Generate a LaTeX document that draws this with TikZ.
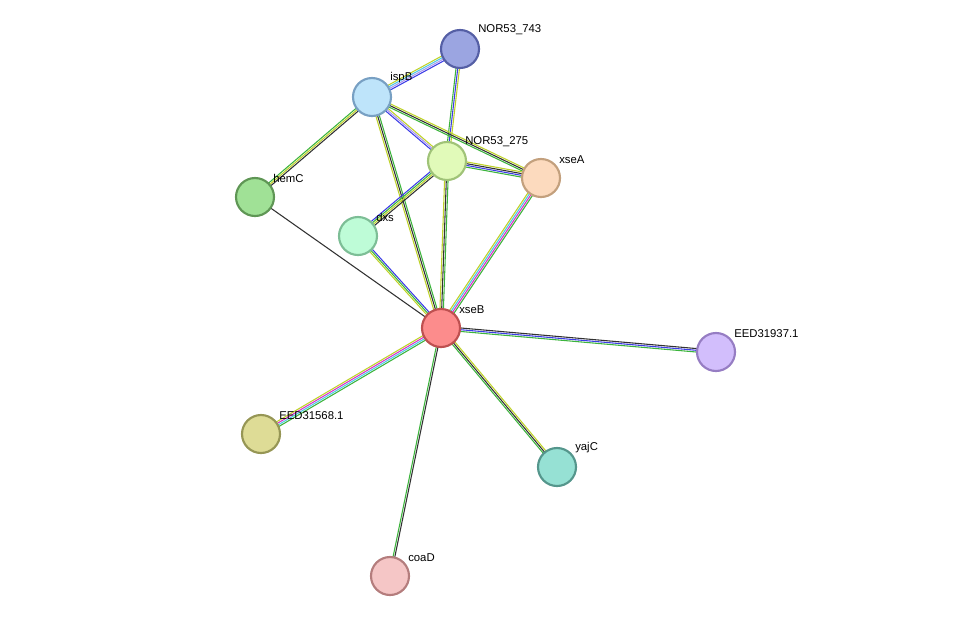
\documentclass[tikz,border=0pt]{standalone}
\usepackage{fontspec}
\setmainfont{Liberation Sans}
\usetikzlibrary{calc}
\definecolor{sG}{RGB}{60,180,60}
\definecolor{sB}{RGB}{60,60,230}
\definecolor{sY}{RGB}{190,210,40}
\definecolor{sK}{RGB}{50,50,50}
\definecolor{sM}{RGB}{220,50,200}
\definecolor{sC}{RGB}{80,200,230}
\definecolor{sL}{RGB}{170,150,240}
\tikzset{
  prot/.style={circle,minimum size=28.5pt,inner sep=0pt,line width=1.6pt},
  lab/.style={anchor=south west,inner sep=0pt,font=\fontsize{8.5}{9}\selectfont},
  ln/.style={line width=0.8pt}
}
\newcommand{\medgeN}[4]{% #4 = count
 \foreach \c [count=\i] in {#3}{%
   \pgfmathsetmacro{\o}{(\i-(#4+1)/2)*1.3}%
   \draw[ln,draw=\c] ($(#1)!\o pt!90:(#2)$) -- ($(#2)!\o pt!-90:(#1)$);}%
}
\begin{document}
\begin{tikzpicture}[x=0.75pt,y=-0.75pt]
\useasboundingbox (0,0) rectangle (975,622);
\coordinate (a743) at (460,49);
\coordinate (ispB) at (372,97);
\coordinate (a275) at (447,161);
\coordinate (xseA) at (541,178);
\coordinate (hemC) at (255,197);
\coordinate (dxs) at (358,236);
\coordinate (xseB) at (441,328);
\coordinate (e937) at (716,352);
\coordinate (e568) at (261,434);
\coordinate (yajC) at (557,467);
\coordinate (coaD) at (390,576);
% edges
\medgeN{xseB}{xseA}{sG,sM,sC,sY}{4}
\medgeN{xseB}{a275}{sG,sK,sY}{3}
\medgeN{a743}{a275}{sG,sB,sY}{3}
\medgeN{xseB}{ispB}{sG,sK,sY}{3}
\medgeN{xseB}{dxs}{sB,sG,sY}{3}
\medgeN{xseB}{hemC}{sK}{1}
\medgeN{xseB}{e937}{sG,sB,sK}{3}
\medgeN{xseB}{e568}{sY,sM,sC,sG}{4}
\medgeN{xseB}{yajC}{sG,sK,sY}{3}
\medgeN{xseB}{coaD}{sG,sK}{2}
\medgeN{ispB}{a743}{sB,sL,sC,sY}{4}
\medgeN{ispB}{a275}{sB,sL,sY}{3}
\medgeN{ispB}{xseA}{sG,sK,sY}{3}
\medgeN{ispB}{hemC}{sG,sY,sK}{3}
\medgeN{a275}{xseA}{sG,sB,sK,sY}{4}
\medgeN{a275}{dxs}{sB,sG,sY,sK}{4}
% nodes
\node[prot,fill={rgb,255:red,155;green,165;blue,225},draw={rgb,255:red,85;green,95;blue,165}] (n743) at (a743) {};
\node[prot,fill={rgb,255:red,190;green,228;blue,250},draw={rgb,255:red,120;green,160;blue,195}] (nispB) at (ispB) {};
\node[prot,fill={rgb,255:red,225;green,250;blue,185},draw={rgb,255:red,160;green,195;blue,120}] (n275) at (a275) {};
\node[prot,fill={rgb,255:red,252;green,218;blue,190},draw={rgb,255:red,195;green,160;blue,125}] (nxseA) at (xseA) {};
\node[prot,fill={rgb,255:red,160;green,225;blue,150},draw={rgb,255:red,95;green,150;blue,85}] (nhemC) at (hemC) {};
\node[prot,fill={rgb,255:red,190;green,252;blue,215},draw={rgb,255:red,125;green,190;blue,150}] (ndxs) at (dxs) {};
\node[prot,fill={rgb,255:red,252;green,140;blue,140},draw={rgb,255:red,190;green,80;blue,80}] (nxseB) at (xseB) {};
\node[prot,fill={rgb,255:red,210;green,190;blue,252},draw={rgb,255:red,150;green,125;blue,195}] (n937) at (e937) {};
\node[prot,fill={rgb,255:red,222;green,220;blue,150},draw={rgb,255:red,150;green,150;blue,85}] (n568) at (e568) {};
\node[prot,fill={rgb,255:red,150;green,225;blue,212},draw={rgb,255:red,85;green,150;blue,140}] (nyajC) at (yajC) {};
\node[prot,fill={rgb,255:red,245;green,198;blue,198},draw={rgb,255:red,180;green,125;blue,125}] (ncoaD) at (coaD) {};
% labels
\node[lab] (l743) at ($(a743)+(18,-14)$) {NOR53\_743};
\node[lab] (lispB) at ($(ispB)+(18,-14)$) {ispB};
\node[lab] (l275) at ($(a275)+(18,-14)$) {NOR53\_275};
\node[lab] (lxseA) at ($(xseA)+(18,-14)$) {xseA};
\node[lab] (lhemC) at ($(hemC)+(18,-14)$) {hemC};
\node[lab] (ldxs) at ($(dxs)+(18,-14)$) {dxs};
\node[lab] (lxseB) at ($(xseB)+(18,-14)$) {xseB};
\node[lab] (l937) at ($(e937)+(18,-14)$) {EED31937.1};
\node[lab] (l568) at ($(e568)+(18,-14)$) {EED31568.1};
\node[lab] (lyajC) at ($(yajC)+(18,-14)$) {yajC};
\node[lab] (lcoaD) at ($(coaD)+(18,-14)$) {coaD};
\end{tikzpicture}
\end{document}
